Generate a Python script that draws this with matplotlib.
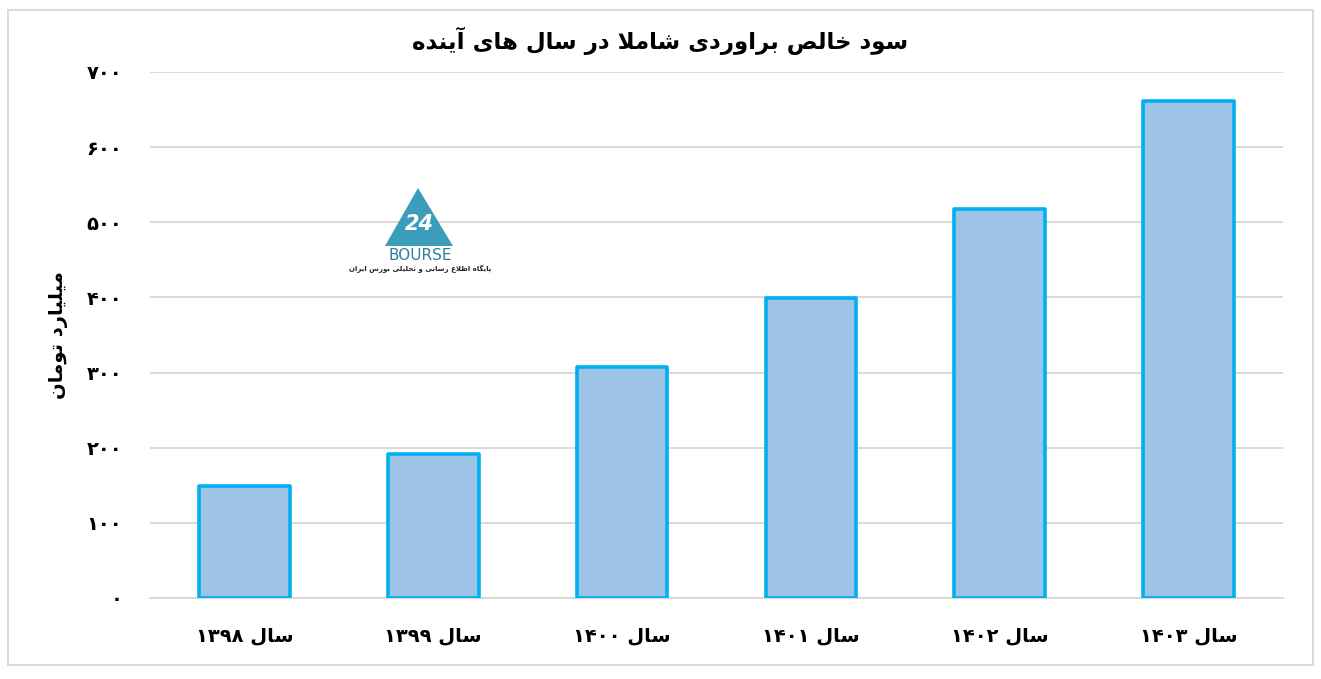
import matplotlib
matplotlib.use("Agg")
from matplotlib import pyplot as plt
from matplotlib.patches import Rectangle, Polygon

# data
years = ["۱۳۹۸", "۱۳۹۹", "۱۴۰۰", "۱۴۰۱", "۱۴۰۲", "۱۴۰۳"]
profit = [149, 191, 307, 399, 518, 661]
yticks = [0, 100, 200, 300, 400, 500, 600, 700]
title = "سود خالص براوردی شاملا در سال های آینده"
ylabel = "میلیارد تومان"

# minimal persian shaping (matplotlib has no bidi / joining)
FORMS = {
    'ا': ('\uFE8D', '\uFE8E', None, None),
    'آ': ('\uFE81', '\uFE82', None, None),
    'ب': ('\uFE8F', '\uFE90', '\uFE91', '\uFE92'),
    'پ': ('\uFB56', '\uFB57', '\uFB58', '\uFB59'),
    'ت': ('\uFE95', '\uFE96', '\uFE97', '\uFE98'),
    'ح': ('\uFEA1', '\uFEA2', '\uFEA3', '\uFEA4'),
    'خ': ('\uFEA5', '\uFEA6', '\uFEA7', '\uFEA8'),
    'د': ('\uFEA9', '\uFEAA', None, None),
    'ر': ('\uFEAD', '\uFEAE', None, None),
    'س': ('\uFEB1', '\uFEB2', '\uFEB3', '\uFEB4'),
    'ش': ('\uFEB5', '\uFEB6', '\uFEB7', '\uFEB8'),
    'ص': ('\uFEB9', '\uFEBA', '\uFEBB', '\uFEBC'),
    'ط': ('\uFEC1', '\uFEC2', '\uFEC3', '\uFEC4'),
    'ع': ('\uFEC9', '\uFECA', '\uFECB', '\uFECC'),
    'ک': ('\uFB8E', '\uFB8F', '\uFB90', '\uFB91'),
    'گ': ('\uFB92', '\uFB93', '\uFB94', '\uFB95'),
    'ل': ('\uFEDD', '\uFEDE', '\uFEDF', '\uFEE0'),
    'م': ('\uFEE1', '\uFEE2', '\uFEE3', '\uFEE4'),
    'ن': ('\uFEE5', '\uFEE6', '\uFEE7', '\uFEE8'),
    'و': ('\uFEED', '\uFEEE', None, None),
    'ه': ('\uFEE9', '\uFEEA', '\uFEEB', '\uFEEC'),
    'ی': ('\uFEEF', '\uFEF0', '\uFEF3', '\uFEF4'),
    'لا': ('\uFEFB', '\uFEFC', None, None),
    'لآ': ('\uFEF5', '\uFEF6', None, None),
}


def fa(text):
    toks = []
    i = 0
    while i < len(text):
        if text[i] == 'ل' and i + 1 < len(text) and text[i + 1] in 'اآ':
            toks.append(text[i:i + 2])
            i += 2
        else:
            toks.append(text[i])
            i += 1
    out = []
    for k, t in enumerate(toks):
        if t not in FORMS:
            out.append(t)
            continue
        prev = toks[k - 1] if k > 0 else None
        nxt = toks[k + 1] if k + 1 < len(toks) else None
        jp = prev in FORMS and FORMS[prev][2] is not None
        jn = FORMS[t][2] is not None and nxt in FORMS
        iso, fin, ini, med = FORMS[t]
        out.append(med if jp and jn else fin if jp else ini if jn else iso)
    s = "".join(out)[::-1]
    # keep digit runs left to right
    res, run = "", ""
    for ch in s:
        if ch.isdigit():
            run += ch
        else:
            res += run[::-1] + ch
            run = ""
    return res + run[::-1]


plt.rcParams['font.family'] = ['DejaVu Sans']

fig = plt.figure(figsize=(13.21, 6.79), dpi=100)
ax = fig.add_axes([0.1136, 0.1193, 0.8576, 0.7747])

x = list(range(len(years)))
ax.bar(x, profit, width=0.48, color="#9DC3E6", edgecolor="#00B0F0",
       linewidth=2.6, joinstyle="round", zorder=3)

ax.set_xlim(-0.5, len(years) - 0.5)
ax.set_ylim(0, 700)
ax.set_yticks(yticks)
ax.set_yticklabels([fa(str(v).translate(str.maketrans("0123456789", "۰۱۲۳۴۵۶۷۸۹"))) for v in yticks],
                   fontsize=14, fontweight="bold")
ax.set_xticks(x)
ax.set_xticklabels([fa("سال " + y) for y in years], fontsize=14, fontweight="bold")
ax.tick_params(axis="x", length=0, pad=20)
ax.tick_params(axis="y", length=0, pad=20)
ax.grid(axis="y", color="#D9D9D9", linewidth=1.4, zorder=0)
for s in ["top", "right", "left"]:
    ax.spines[s].set_visible(False)
ax.spines["bottom"].set_color("#D9D9D9")
ax.spines["bottom"].set_linewidth(1.4)
ax.set_ylabel(fa(ylabel), fontsize=14, fontweight="bold", labelpad=13)

fig.text(0.5, 0.94, fa(title), ha="center", va="center", fontsize=16.5, fontweight="bold")

# outer frame
fig.patches.append(Rectangle((8 / 1321, 14 / 679), 1305 / 1321, 655 / 679, transform=fig.transFigure,
                             fill=False, edgecolor="#D9D9D9", linewidth=1.4))

# watermark logo
fig.patches.append(Polygon([(418 / 1321, 1 - 188 / 679), (385 / 1321, 1 - 246 / 679), (453 / 1321, 1 - 246 / 679)],
                           closed=True, transform=fig.transFigure, facecolor="#3C9CBC", edgecolor="none"))
fig.text(419 / 1321, 1 - 224 / 679, "24", ha="center", va="center", fontsize=15, fontweight="bold",
         color="white", style="italic")
fig.text(420 / 1321, 1 - 255 / 679, "BOURSE", ha="center", va="center", fontsize=11, color="#2E7E9E")
fig.text(420 / 1321, 1 - 269 / 679, fa("پایگاه اطلاع رسانی و تحلیلی بورس ایران"), ha="center", va="center",
         fontsize=5, fontweight="bold", color="#222222")

fig.savefig("out.png", dpi=100)
